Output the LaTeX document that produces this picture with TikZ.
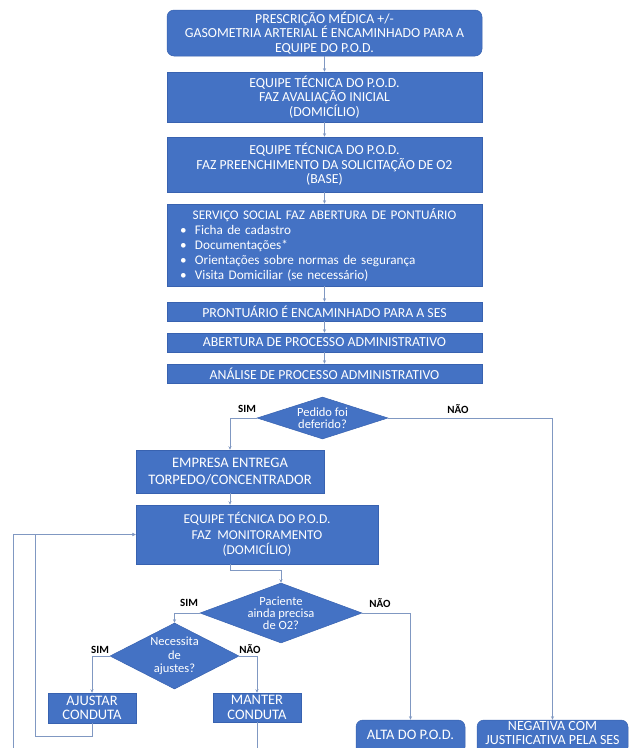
\documentclass[tikz,border=0pt]{standalone}
\usepackage{fontspec}
\setmainfont{Carlito}
\usetikzlibrary{shapes.geometric,arrows.meta}
\definecolor{boxblue}{RGB}{68,114,196}
\definecolor{boxedge}{RGB}{56,98,176}
\definecolor{conncol}{RGB}{128,152,194}
\begin{document}
\begin{tikzpicture}[x=1pt,y=-1pt,
  box/.style={rectangle, fill=boxblue, draw=boxedge, line width=0.5pt, text=white, align=center, inner sep=0pt, font=\fontsize{13.8}{14.5}\selectfont},
  rbox/.style={box, rounded corners=7pt},
  dia/.style={diamond, fill=boxblue, draw=boxedge, line width=0.5pt, inner sep=0pt},
  dtext/.style={text=white, align=center, inner sep=0pt, font=\fontsize{12.5}{12}\selectfont},
  lbl/.style={font=\fontsize{11}{12}\selectfont\bfseries, inner sep=0pt},
  conn/.style={draw=conncol, line width=0.6pt, -{Stealth[length=3.5pt,width=3pt]}},
  plain/.style={draw=conncol, line width=0.6pt}
]
\useasboundingbox (0,0) rectangle (630,748);
\fill[white] (0,0) rectangle (630,748);

% top column
\node[rbox, minimum width=315pt, minimum height=46pt] (b1) at (324.5,33)
  {PRESCRIÇÃO MÉDICA +/-\\GASOMETRIA ARTERIAL É ENCAMINHADO PARA A\\EQUIPE DO P.O.D.};
\node[box, minimum width=315pt, minimum height=50pt] (b2) at (324.5,97)
  {EQUIPE TÉCNICA DO P.O.D.\\FAZ AVALIAÇÃO INICIAL\\(DOMICÍLIO)};
\node[box, minimum width=315pt, minimum height=55pt] (b3) at (324.5,164.5)
  {EQUIPE TÉCNICA DO P.O.D.\\FAZ PREENCHIMENTO DA SOLICITAÇÃO DE O2\\(BASE)};
\node[box, minimum width=315pt, minimum height=82pt, text width=289pt, inner xsep=13pt, align=left, font=\fontsize{13.2}{15}\selectfont] (b4) at (324.5,245)
  {\makebox[289pt][c]{SERVIÇO SOCIAL FAZ ABERTURA DE PONTUÁRIO}\\
   \makebox[15pt][l]{\textbullet}Ficha de cadastro\\
   \makebox[15pt][l]{\textbullet}Documentações*\\
   \makebox[15pt][l]{\textbullet}Orientações sobre normas de segurança\\
   \makebox[15pt][l]{\textbullet}Visita Domiciliar (se necessário)};
\node[box, minimum width=315pt, minimum height=19pt] (b5) at (324.5,311.5) {PRONTUÁRIO É ENCAMINHADO PARA A SES};
\node[box, minimum width=315pt, minimum height=19pt] (b6) at (324.5,342.5) {ABERTURA DE PROCESSO ADMINISTRATIVO};
\node[box, minimum width=315pt, minimum height=19pt] (b7) at (324.5,373.5) {ANÁLISE DE PROCESSO ADMINISTRATIVO};

\draw[conn] (b1) -- (b2);
\draw[conn] (b2) -- (b3);
\draw[conn] (b3) -- (b4);
\draw[conn] (b4) -- (b5);
\draw[conn] (b5) -- (b6);
\draw[conn] (b6) -- (b7);

% decision 1
\node[dia, minimum width=131pt, minimum height=42pt] (d1) at (322.5,418) {};
\node[dtext] (d1t) at (d1) {Pedido foi\\deferido?};
\node[lbl] (sim1) at (247,409) {SIM};
\node[lbl] (nao1) at (458,409) {NÃO};

\node[box, minimum width=188pt, minimum height=43pt, font=\fontsize{14.5}{17}\selectfont] (e) at (230,471.5)
  {EMPRESA ENTREGA\\TORPEDO/CONCENTRADOR};
\node[box, minimum width=242pt, minimum height=59pt, font=\fontsize{13.5}{15.5}\selectfont] (m) at (257,534.5)
  {EQUIPE TÉCNICA DO P.O.D.\\FAZ\ \ MONITORAMENTO\\(DOMICÍLIO)};

\draw[conn] (d1.west) -| (e.north);
\draw[conn] (e.south) -- (e.south |- m.north);

% decision 2
\node[dia, minimum width=162pt, minimum height=60pt] (d2) at (281,613) {};
\node[dtext] (d2t) at (d2) {Paciente\\ainda precisa\\de O2?};
\node[lbl] (sim2) at (189,603) {SIM};
\node[lbl] (nao2) at (380,603) {NÃO};
\coordinate (mout) at (230,570);
\draw[conn] (e.south |- m.south) -- (mout) -| (d2.north);

% decision 3
\node[dia, minimum width=129pt, minimum height=66pt] (d3) at (174.5,656) {};
\node[dtext, font=\fontsize{12.5}{13.5}\selectfont] (d3t) at (d3) {Necessita\\de\\ajustes?};
\node[lbl] (sim3) at (100,650) {SIM};
\node[lbl] (nao3) at (250,649) {NÃO};
\draw[conn] (d2.west) -| (d3.north);

\node[box, minimum width=88pt, minimum height=30pt, font=\fontsize{14.5}{14.5}\selectfont] (a) at (92,708) {AJUSTAR\\CONDUTA};
\node[box, minimum width=88pt, minimum height=29pt, font=\fontsize{14.5}{14.5}\selectfont] (mt) at (257,707.5) {MANTER\\CONDUTA};
\draw[conn] (d3.west) -| (a.north);
\draw[conn] (d3.east) -| (mt.north);

\node[rbox, minimum width=109pt, minimum height=34pt] (alta) at (410.5,737) {};
\node[box, draw=none, fill=none, font=\fontsize{14.5}{14}\selectfont] (altat) at (410.5,735) {ALTA DO P.O.D.};
\node[rbox, minimum width=151pt, minimum height=34pt] (neg) at (552.5,737) {};
\node[box, draw=none, fill=none, font=\fontsize{14}{13.5}\selectfont] (negt) at (552.5,733) {NEGATIVA COM\\JUSTIFICATIVA PELA SES};
\draw[conn] (d2.east) -| (alta.north);
\draw[conn] (d1.east) -| (neg.north);

% feedback loops
\coordinate (c1) at (35,736);
\draw[conn] (a.south) |- (c1) |- (m.west);
\coordinate (c3) at (13,748);
\draw[conn] (c3) |- (m.west);
\coordinate (c4) at (257,748);
\draw[plain] (mt.south) -- (c4);
\end{tikzpicture}
\end{document}
